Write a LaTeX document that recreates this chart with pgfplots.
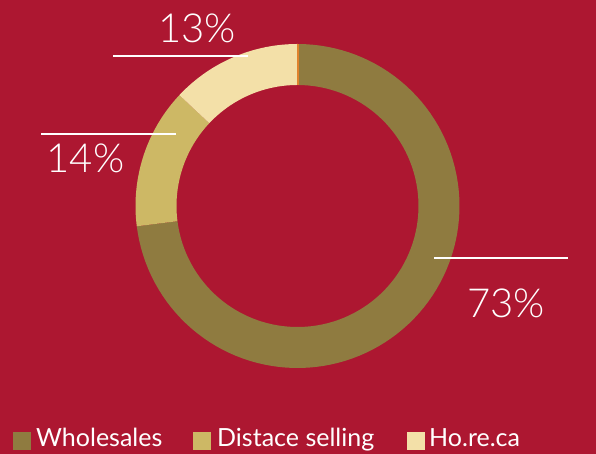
\documentclass[border=0pt]{standalone}
\usepackage{pgfplots}
\pgfplotsset{compat=1.18}
\usepackage{pgfplotstable}
\usepackage{fontspec}
\setmainfont{Lato}
\newfontfamily\lightfont{Lato Light}
\definecolor{bgred}{HTML}{AD1731}
\definecolor{cwhole}{HTML}{8F7B40}
\definecolor{cdist}{HTML}{CDB865}
\definecolor{choreca}{HTML}{F3E0A8}
\definecolor{corange}{HTML}{E0822C}
\pgfplotstableread{
label value
Wholesales 73
Distance 14
Horeca 13
}\shares
\newcommand{\seg}[3]{%
\addplot[fill=#1, draw=none, domain=0:3, samples=301, variable=\t]
 ({297.5 + (\t<=1 ? 162 : (\t<=2 ? 162-41*(\t-1) : 121))*cos(\t<=1 ? #2+(#3-#2)*\t : (\t<=2 ? #3 : #3-(#3-#2)*(\t-2)))},
  {248 + (\t<=1 ? 162 : (\t<=2 ? 162-41*(\t-1) : 121))*sin(\t<=1 ? #2+(#3-#2)*\t : (\t<=2 ? #3 : #3-(#3-#2)*(\t-2)))}) -- cycle;
}
\begin{document}
\begin{tikzpicture}
\pgfplotstablegetelem{0}{value}\of\shares \let\vA\pgfplotsretval
\pgfplotstablegetelem{1}{value}\of\shares \let\vB\pgfplotsretval
\pgfplotstablegetelem{2}{value}\of\shares \let\vC\pgfplotsretval
\pgfmathsetmacro{\aA}{90}
\pgfmathsetmacro{\aB}{90-3.6*\vA}
\pgfmathsetmacro{\aC}{\aB-3.6*\vB}
\pgfmathsetmacro{\aD}{\aC-3.6*\vC}
\begin{axis}[x=1pt, y=1pt, xmin=0, xmax=596, ymin=0, ymax=454,
  hide axis, scale only axis, clip=false]
\fill[bgred] (axis cs:0,0) rectangle (axis cs:596,454);
\seg{cwhole}{\aA}{\aB}
\seg{cdist}{\aB}{\aC}
\seg{choreca}{\aC}{\aD}
\addplot[corange, line width=1.2pt] coordinates {(298,410) (298,369)};
% leader lines
\addplot[white, line width=2.6pt] coordinates {(113,398) (248,398)};
\addplot[white, line width=2.6pt] coordinates {(41,320) (176,320)};
\addplot[white, line width=2.6pt] coordinates {(434,196) (568,196)};
% value labels
\node[anchor=base, text=white, font=\lightfont\fontsize{40}{40}\selectfont] at (axis cs:197,411) {13\%};
\node[anchor=base, text=white, font=\lightfont\fontsize{40}{40}\selectfont] at (axis cs:85.5,281) {14\%};
\node[anchor=base, text=white, font=\lightfont\fontsize{40}{40}\selectfont] at (axis cs:506,136) {73\%};
% legend
\addplot[cwhole, only marks, mark=square*, mark size=8.5pt, mark options={draw=cwhole, fill=cwhole}] coordinates {(21.5,13.5)};
\addplot[cdist, only marks, mark=square*, mark size=8.5pt, mark options={draw=cdist, fill=cdist}] coordinates {(201.5,13.5)};
\addplot[choreca, only marks, mark=square*, mark size=8.5pt, mark options={draw=choreca, fill=choreca}] coordinates {(415.5,13.5)};
\node[anchor=base west, text=white, inner sep=0pt, font=\fontsize{25}{25}\selectfont] at (axis cs:36,7) {Wholesales};
\node[anchor=base west, text=white, inner sep=0pt, font=\fontsize{25}{25}\selectfont] at (axis cs:217,7) {Distace selling};
\node[anchor=base west, text=white, inner sep=0pt, font=\fontsize{25}{25}\selectfont] at (axis cs:429,7) {Ho.re.ca};
\end{axis}
\end{tikzpicture}
\end{document}
